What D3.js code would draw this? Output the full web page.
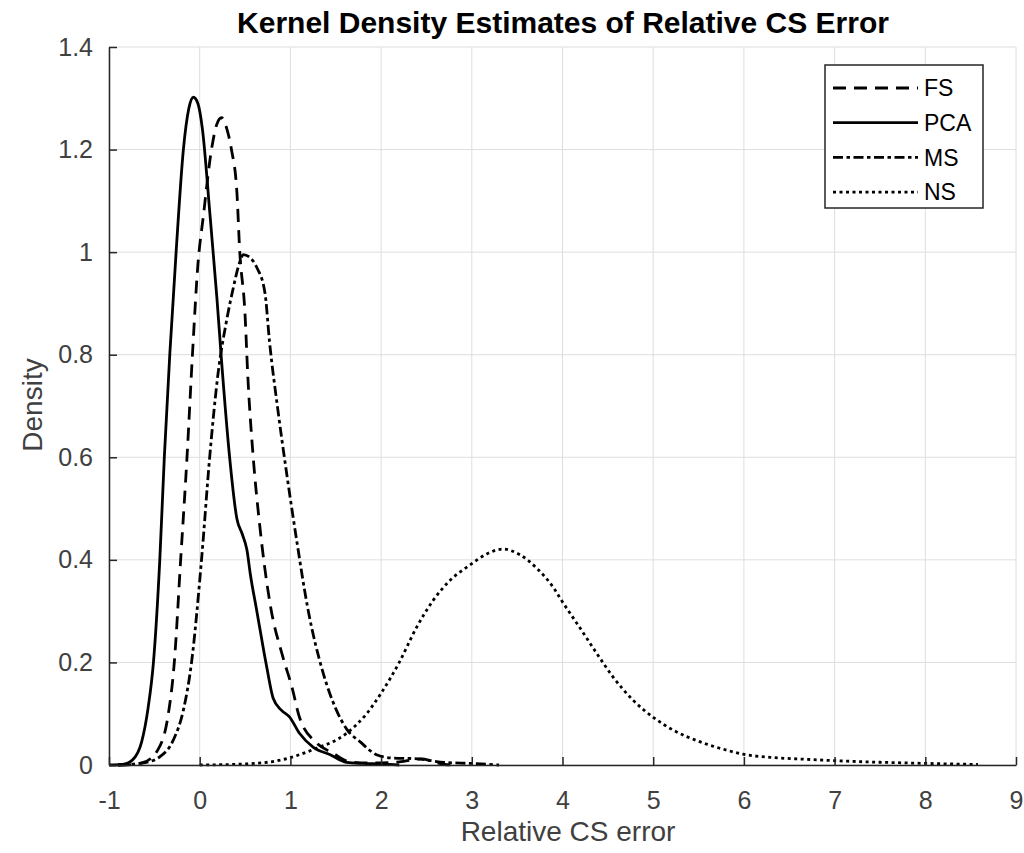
<!DOCTYPE html>
<html>
<head>
<meta charset="utf-8">
<script src="https://cdn.jsdelivr.net/npm/d3@7"></script>
<style>
  body { margin: 0; background: #fff; }
  text { font-family: "Liberation Sans", Arial, sans-serif; }
</style>
</head>
<body>
<script>
// tick values / labels
var xTicks = [-1, 0, 1, 2, 3, 4, 5, 6, 7, 8, 9];
var xTickLabels = ['-1', '0', '1', '2', '3', '4', '5', '6', '7', '8', '9'];
var yTicks = [0, 0.2, 0.4, 0.6, 0.8, 1, 1.2, 1.4];
var yTickLabels = ['0', '0.2', '0.4', '0.6', '0.8', '1', '1.2', '1.4'];

// series: [relative CS error, density]
var fsDensity = [[-0.9,0],[-0.75,0.001],[-0.62,0.005],[-0.46,0.03],[-0.35,0.095],[-0.28,0.2],[-0.21,0.4],
  [-0.14,0.6],[-0.08,0.8],[-0.02,0.975],[0.04,1.07],[0.13,1.2],[0.19,1.25],[0.24,1.262],[0.3,1.24],
  [0.35,1.2],[0.41,1.117],[0.44,1.006],[0.5,0.878],[0.53,0.76],[0.59,0.6],[0.66,0.47],[0.78,0.31],
  [0.91,0.215],[1.02,0.15],[1.1,0.093],[1.29,0.043],[1.47,0.023],[1.66,0.006],[1.9,0.004],[2.2,0.006],
  [2.45,0.012],[2.55,0.008],[2.7,0.001],[2.8,0]];
var pcaDensity = [[-1,0],[-0.85,0.001],[-0.74,0.01],[-0.64,0.045],[-0.57,0.11],[-0.51,0.2],[-0.44,0.4],
  [-0.39,0.6],[-0.33,0.8],[-0.26,1.0],[-0.18,1.2],[-0.12,1.28],[-0.07,1.302],[-0.02,1.29],[0.03,1.24],
  [0.11,1.08],[0.19,0.91],[0.24,0.79],[0.33,0.6],[0.41,0.48],[0.47,0.45],[0.52,0.42],[0.56,0.37],
  [0.63,0.3],[0.74,0.19],[0.81,0.13],[0.9,0.107],[0.99,0.094],[1.1,0.062],[1.25,0.035],[1.44,0.02],
  [1.62,0.005],[1.8,0.003],[2.0,0.002],[2.2,0]];
var msDensity = [[-0.9,0],[-0.62,0.004],[-0.44,0.016],[-0.29,0.049],[-0.18,0.107],[-0.09,0.2],[0.02,0.4],
  [0.11,0.6],[0.2,0.76],[0.3,0.87],[0.37,0.93],[0.44,0.98],[0.48,0.995],[0.55,0.99],[0.63,0.97],
  [0.72,0.92],[0.77,0.825],[0.86,0.695],[0.96,0.567],[1.07,0.437],[1.19,0.307],[1.36,0.18],[1.5,0.11],
  [1.62,0.07],[1.77,0.045],[1.95,0.02],[2.1,0.014],[2.4,0.012],[2.7,0.005],[3.0,0.003],[3.3,0]];
var nsDensity = [[0,0],[0.5,0.002],[0.9,0.01],[1.25,0.03],[1.62,0.062],[1.84,0.1],[2.0,0.14],[2.2,0.2],
  [2.39,0.268],[2.57,0.32],[2.76,0.36],[2.98,0.39],[3.17,0.412],[3.34,0.421],[3.53,0.41],[3.72,0.383],
  [3.9,0.346],[4.0,0.318],[4.19,0.268],[4.38,0.217],[4.56,0.171],[4.78,0.126],[5.0,0.093],[5.22,0.068],
  [5.52,0.045],[5.81,0.029],[5.99,0.021],[6.29,0.015],[6.7,0.011],[7.2,0.007],[7.8,0.004],[8.58,0.001]];

var seriesNames = ['FS', 'PCA', 'MS', 'NS'];
var seriesData = [fsDensity, pcaDensity, msDensity, nsDensity];
var dashes = ['13,8', null, '10,3.5,3.5,3.5', '3,3.5'];

var width = 1024;
var height = 853;
var svg = d3.select('body').append('svg').attr('width', width).attr('height', height);

var x = d3.scaleLinear().domain([-1, 9]).range([109, 1016]);
var y = d3.scaleLinear().domain([0, 1.4]).range([765, 47]);

// grid
var grid = svg.append('g').attr('stroke', '#dedede').attr('stroke-width', 1);
grid.selectAll('.gx').data(xTicks).enter().append('line')
  .attr('x1', function(d){ return x(d); }).attr('x2', function(d){ return x(d); })
  .attr('y1', y(0)).attr('y2', y(1.4));
grid.selectAll('.gy').data(yTicks).enter().append('line')
  .attr('x1', x(-1)).attr('x2', x(9))
  .attr('y1', function(d){ return y(d); }).attr('y2', function(d){ return y(d); });

// curves
var line = d3.line()
  .x(function(d){ return x(d[0]); })
  .y(function(d){ return y(d[1]); })
  .curve(d3.curveMonotoneX);

svg.append('g').selectAll('path').data(seriesData).enter().append('path')
  .attr('d', line)
  .attr('fill', 'none')
  .attr('stroke', '#000')
  .attr('stroke-width', 2.8)
  .attr('stroke-linejoin', 'round')
  .attr('stroke-dasharray', function(d, i){ return dashes[i]; });

// axes, ticks pointing in
var xAxis = svg.append('g').attr('transform', 'translate(0,' + y(0) + ')')
  .call(d3.axisBottom(x).tickValues(xTicks)
    .tickFormat(function(d, i){ return xTickLabels[i]; })
    .tickSizeInner(-8).tickSizeOuter(0).tickPadding(26));
var yAxis = svg.append('g').attr('transform', 'translate(' + x(-1) + ',0)')
  .call(d3.axisLeft(y).tickValues(yTicks)
    .tickFormat(function(d, i){ return yTickLabels[i]; })
    .tickSizeInner(-8).tickSizeOuter(0).tickPadding(16));

[xAxis, yAxis].forEach(function(a){
  a.select('.domain').attr('stroke', '#262626').attr('stroke-width', 1.5);
  a.selectAll('.tick line').attr('stroke', '#262626').attr('stroke-width', 1.5);
  a.selectAll('.tick text').attr('fill', '#404040').style('font-size', '25px')
    .style('font-family', '"Liberation Sans", Arial, sans-serif');
});

// titles
svg.append('text').attr('x', 563).attr('y', 33).attr('text-anchor', 'middle')
  .style('font-size', '30px').style('font-weight', 'bold').attr('fill', '#000')
  .text('Kernel Density Estimates of Relative CS Error');
svg.append('text').attr('x', 568).attr('y', 841).attr('text-anchor', 'middle')
  .style('font-size', '28px').attr('fill', '#404040')
  .text('Relative CS error');
svg.append('text').attr('transform', 'translate(42,405) rotate(-90)').attr('text-anchor', 'middle')
  .style('font-size', '28px').attr('fill', '#404040')
  .text('Density');

// legend
var legend = svg.append('g');
legend.append('rect').attr('x', 825).attr('y', 65).attr('width', 158).attr('height', 143)
  .attr('fill', '#fff').attr('stroke', '#262626').attr('stroke-width', 1.5);
var items = legend.selectAll('.item').data(seriesNames).enter().append('g')
  .attr('transform', function(d, i){ return 'translate(0,' + (88 + i * 34.7) + ')'; });
items.append('line').attr('x1', 833).attr('x2', 918).attr('y1', 0).attr('y2', 0)
  .attr('stroke', '#000').attr('stroke-width', 2.8)
  .attr('stroke-dasharray', function(d, i){ return dashes[i]; });
items.append('text').attr('x', 924).attr('dy', '0.36em')
  .style('font-size', '23px').attr('fill', '#000')
  .text(function(d){ return d; });
</script>
</body>
</html>
